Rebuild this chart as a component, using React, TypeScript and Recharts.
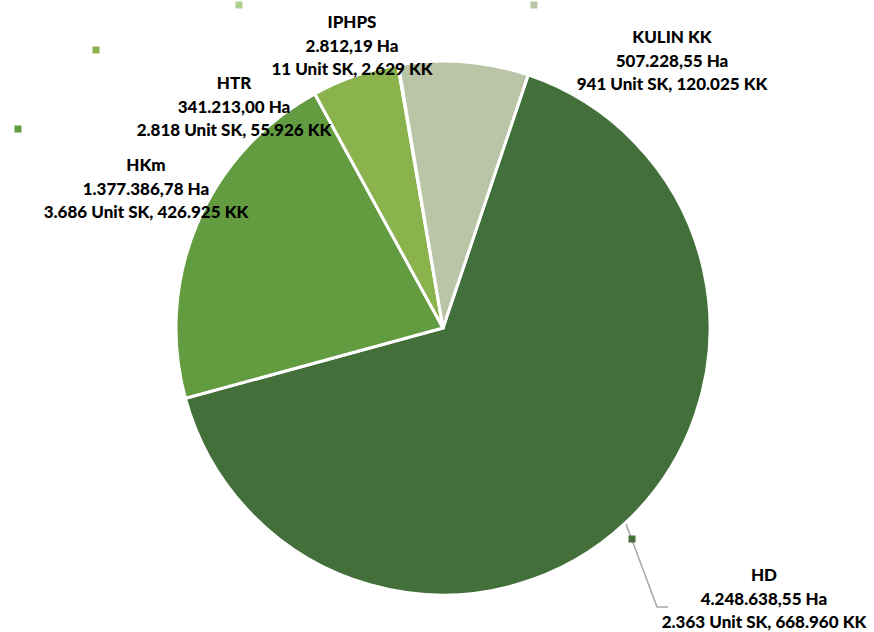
import { PieChart, Pie, Cell } from "recharts";

const names = ["HD", "HKm", "HTR", "IPHPS", "KULIN KK"];
const areaHa = [4248638.55, 1377386.78, 341213.0, 2812.19, 507228.55];
const unitSK = [2363, 3686, 2818, 11, 941];
const kkCount = [668960, 426925, 55926, 2629, 120025];
const colors = ["#43703A", "#629B40", "#8AB34E", "#A9D08E", "#BAC4A6"];

// label placement relative to pie centre (Excel had them dragged by hand)
const labelOffset: Record<string, { tx: number; ty: number; mx: number; my: number }> = {
  HD: { tx: 321, ty: 247, mx: 189, my: 211 },
  HKm: { tx: -297, ty: -163, mx: -425, my: -199 },
  HTR: { tx: -209, ty: -245, mx: -347, my: -278 },
  IPHPS: { tx: -91, ty: -306, mx: -204, my: -323 },
  "KULIN KK": { tx: 229, ty: -291, mx: 91, my: -323 },
};

const dots = (n: number) => String(n).replace(/\B(?=(\d{3})+(?!\d))/g, ".");
const fmtHa = (v: number) => {
  const [i, d] = v.toFixed(2).split(".");
  return `${dots(Number(i))},${d} Ha`;
};

const data = names.map((name, i) => ({
  name,
  value: areaHa[i],
  line2: fmtHa(areaHa[i]),
  line3: `${dots(unitSK[i])} Unit SK, ${dots(kkCount[i])} KK`,
}));

const renderLabel = (props: any) => {
  const { cx, cy, index } = props;
  const d = data[index];
  const off = labelOffset[d.name];
  const tx = cx + off.tx;
  const ty = cy + off.ty;
  const lh = 23.5;
  return (
    <g>
      {d.name === "HD" && (
        <polyline
          points={`${cx + 183},${cy + 196} ${cx + 214},${cy + 279} ${cx + 225},${cy + 279}`}
          fill="none"
          stroke="#A6A6A6"
          strokeWidth={1.5}
        />
      )}
      <rect x={cx + off.mx - 3.5} y={cy + off.my - 3.5} width={7} height={7} fill={colors[index]} />
      <text
        x={tx}
        textAnchor="middle"
        fontFamily="Lato, 'Noto Sans', sans-serif"
        fontWeight={900}
        fontSize={17}
        fill="#000"
      >
        <tspan x={tx} y={ty + 6}>{d.name}</tspan>
        <tspan x={tx} y={ty + lh + 6}>{d.line2}</tspan>
        <tspan x={tx} y={ty + 2 * lh + 6}>{d.line3}</tspan>
      </text>
    </g>
  );
};

export default function App() {
  return (
    <div style={{ position: "absolute", left: 0, top: 0, background: "#fff" }}>
      <PieChart width={874} height={632} margin={{ top: 0, right: 0, bottom: 0, left: 0 }}>
        <Pie
          data={data}
          dataKey="value"
          nameKey="name"
          cx={443}
          cy={328}
          outerRadius={267}
          startAngle={71.4}
          endAngle={-288.6}
          stroke="#fff"
          strokeWidth={3}
          label={renderLabel}
          labelLine={false}
          isAnimationActive={false}
        >
          {data.map((d, i) => (
            <Cell key={d.name} fill={colors[i]} />
          ))}
        </Pie>
      </PieChart>
    </div>
  );
}
